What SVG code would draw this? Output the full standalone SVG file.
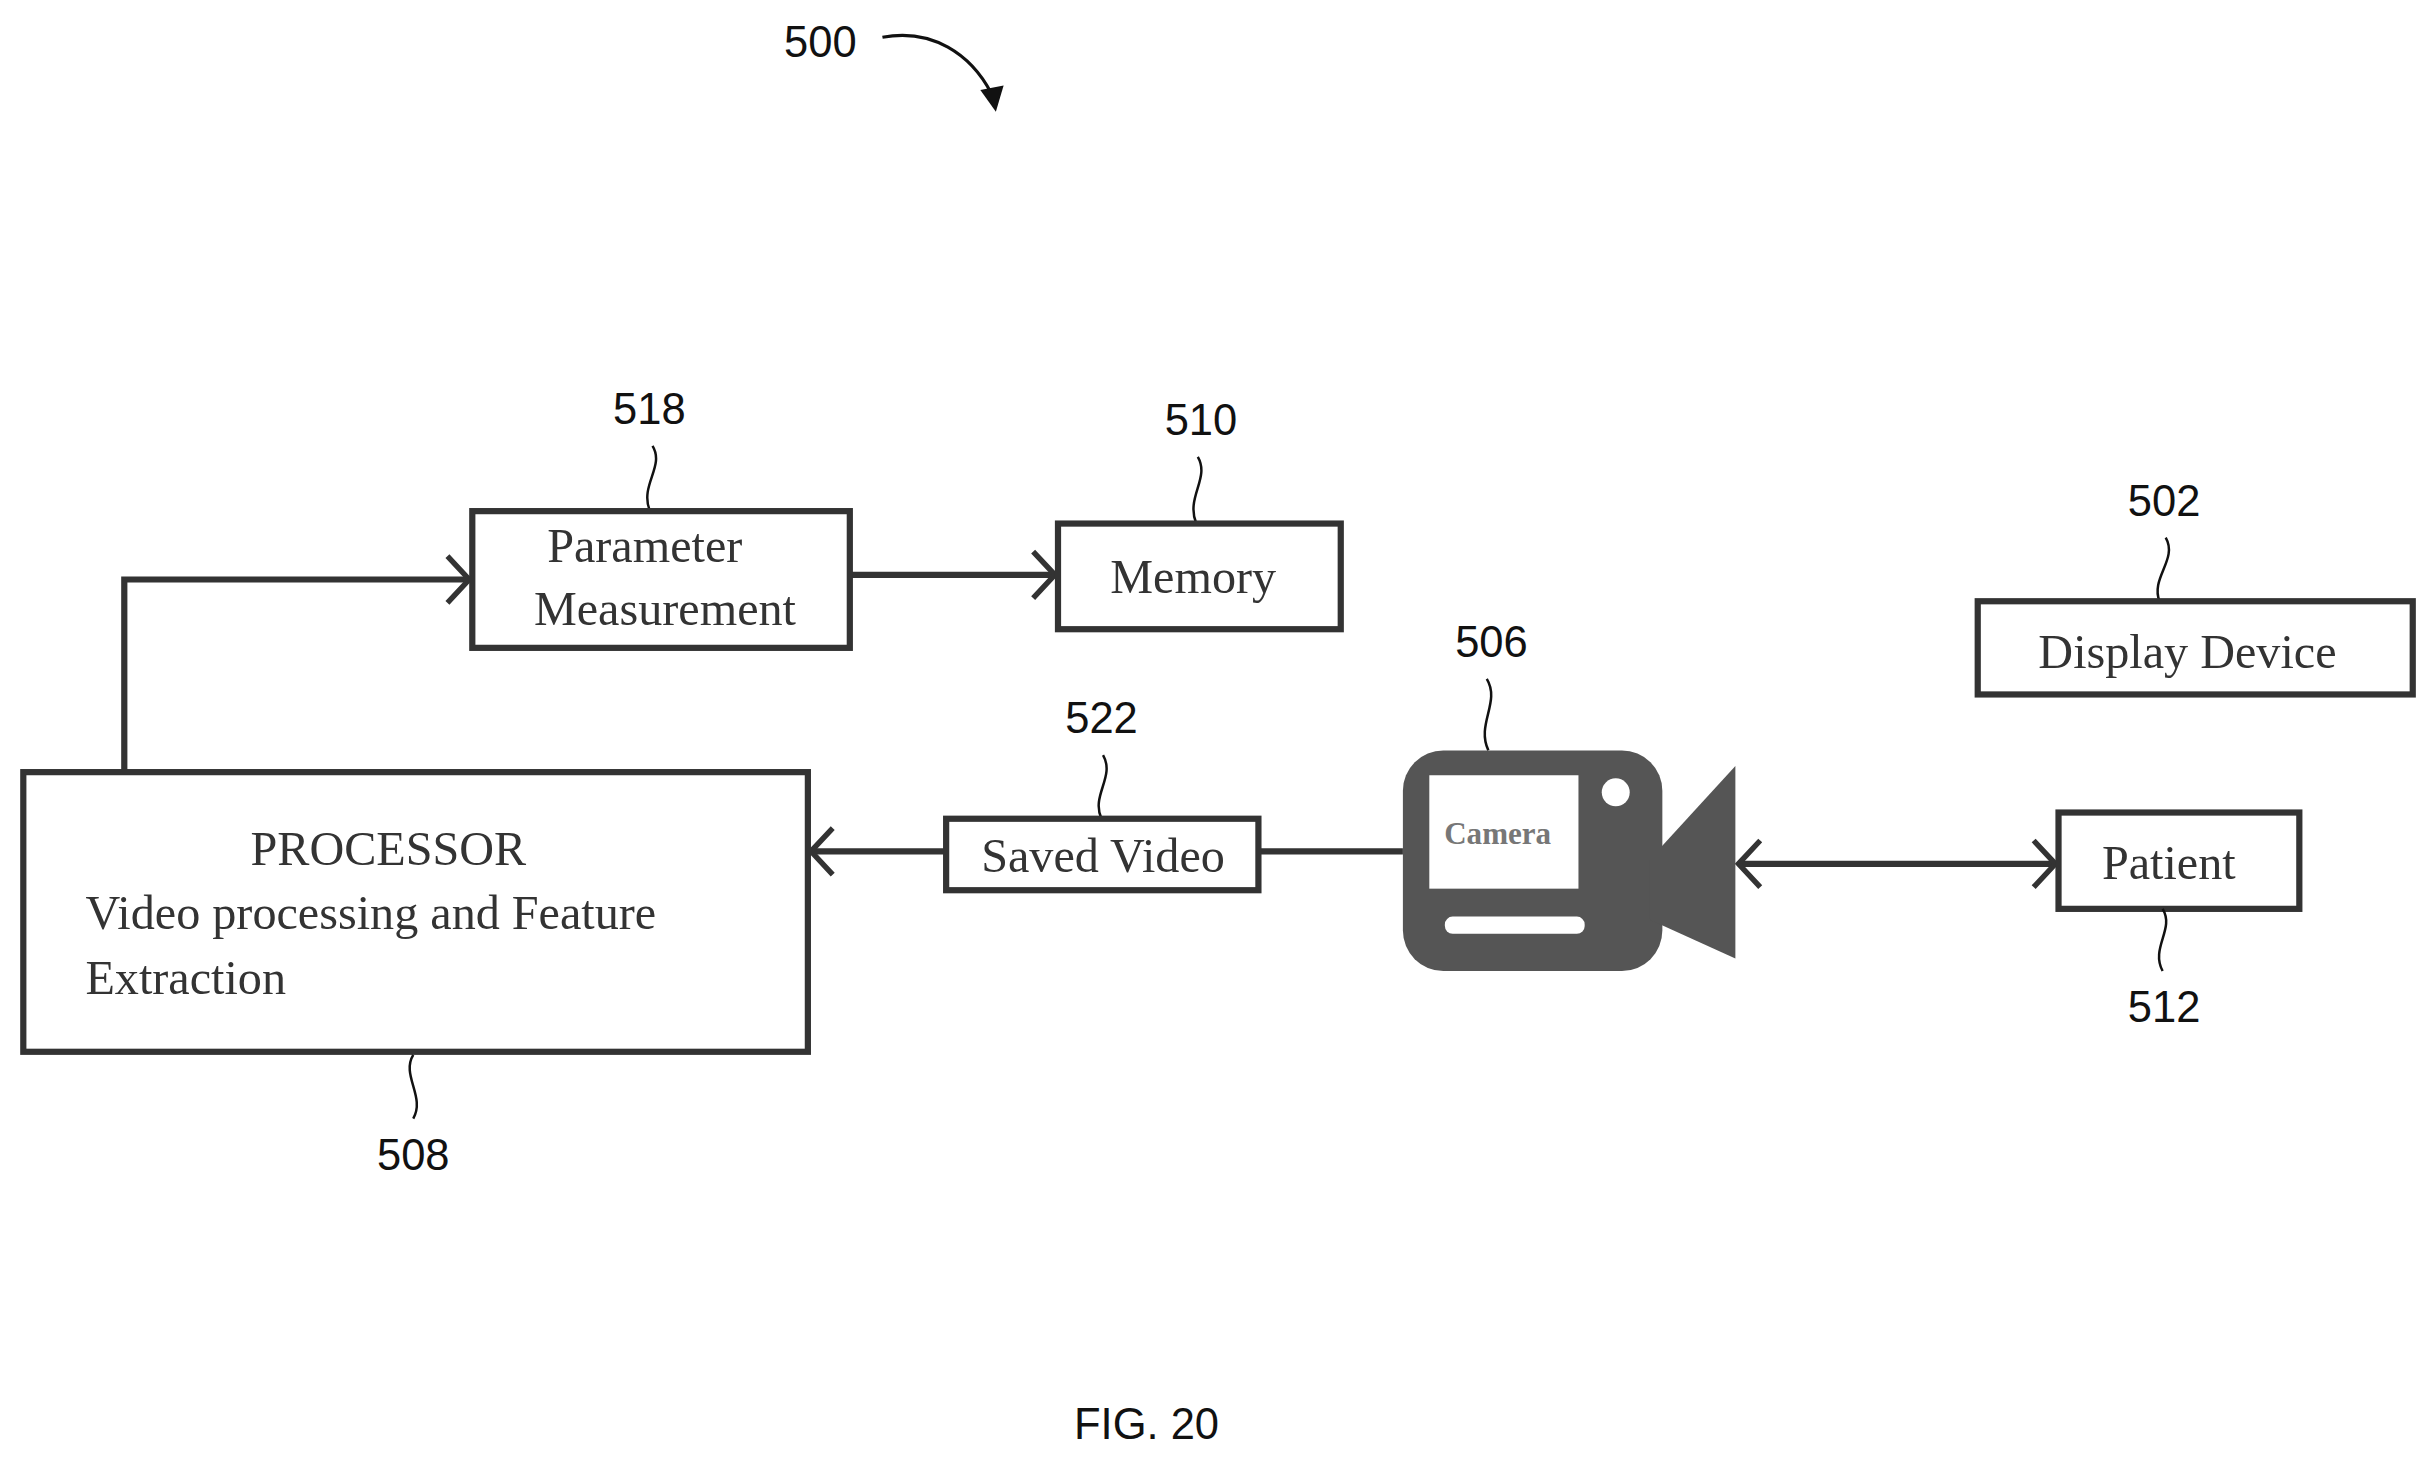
<svg xmlns="http://www.w3.org/2000/svg" width="2436" height="1464" viewBox="0 0 2436 1464">
<style>
.box{fill:#fff;stroke:#333;stroke-width:4}
.t{font-family:"Liberation Serif",serif;font-size:31px;fill:#333}
.n{font-family:"Liberation Sans",Arial,sans-serif;font-size:28px;fill:#111;text-anchor:middle}
.ln{fill:none;stroke:#333;stroke-width:4}
.ld{fill:none;stroke:#111;stroke-width:1.6}
.ah{fill:none;stroke:#333;stroke-width:3.5}
</style>
<rect width="2436" height="1464" fill="#fff"/>
<g transform="scale(1.5536)">
<g id="connectors">
<path class="ln" d="M80,497 V373 H302"/>
<path class="ah" d="M288,358 L302,373 L288,388"/>
<path class="ln" d="M547,370 H679"/>
<path class="ah" d="M665,355 L679,370 L665,385"/>
<path class="ln" d="M903,548 H810 M609,548 H522"/>
<path class="ah" d="M536,533 L522,548 L536,563"/>
<path class="ln" d="M1119,556 H1323"/>
<path class="ah" d="M1133,541 L1119,556 L1133,571 M1309,541 L1323,556 L1309,571"/>
<path fill="none" stroke="#111" stroke-width="2" d="M568,24 C600,18 625,35 638,60"/>
<path fill="#111" d="M631,58 L641,72 L646,55 Z"/>
</g>
<g id="n500"><text class="n" x="528" y="37">500</text></g>
<g id="n518"><text class="n" x="418" y="273">518</text><path class="ld" d="M420,287 C428,300 412,312 418,328"/>
<rect class="box" x="304" y="329" width="243" height="88"/>
<text class="t" x="415" y="362" text-anchor="middle">Parameter</text>
<text class="t" x="428" y="402" text-anchor="middle">Measurement</text></g>
<g id="n510"><text class="n" x="773" y="280">510</text><path class="ld" d="M771,294 C779,308 763,320 770,337"/>
<rect class="box" x="681" y="337" width="182" height="68"/>
<text class="t" x="768" y="382" text-anchor="middle">Memory</text></g>
<g id="n502"><text class="n" x="1393" y="332">502</text><path class="ld" d="M1394,346 C1402,360 1384,372 1390,387"/>
<rect class="box" x="1273" y="387" width="280" height="60"/>
<text class="t" x="1408" y="430" text-anchor="middle">Display Device</text></g>
<g id="n506"><text class="n" x="960" y="423">506</text><path class="ld" d="M957,437 C966,452 950,466 958,483"/>
<rect x="903" y="483" width="167" height="142" rx="26" fill="#555"/>
<path fill="#555" d="M1062,553 L1117,493 L1117,617 L1062,592 Z"/>
<rect x="920" y="499" width="96" height="73" fill="#fff"/>
<circle cx="1040" cy="510" r="9" fill="#fff"/>
<rect x="930" y="590" width="90" height="11" rx="5" fill="#fff"/>
<text x="964" y="543" text-anchor="middle" font-family="Liberation Serif,serif" font-size="20" font-weight="bold" fill="#777">Camera</text></g>
<g id="n522"><text class="n" x="709" y="472">522</text><path class="ld" d="M710,486 C718,500 702,512 709,527"/>
<rect class="box" x="609" y="527" width="201" height="46"/>
<text class="t" x="710" y="561" text-anchor="middle">Saved Video</text></g>
<g id="n512"><rect class="box" x="1325" y="523" width="155" height="62"/>
<text class="t" x="1396" y="566" text-anchor="middle">Patient</text>
<path class="ld" d="M1392,585 C1400,598 1384,610 1392,625"/><text class="n" x="1393" y="658">512</text></g>
<g id="n508"><rect class="box" x="15" y="497" width="505" height="180"/>
<text class="t" x="250" y="557" text-anchor="middle">PROCESSOR</text>
<text class="t" x="55" y="598">Video processing and Feature</text>
<text class="t" x="55" y="640">Extraction</text>
<path class="ld" d="M266,679 C258,692 274,706 266,720"/><text class="n" x="266" y="753">508</text></g>
<text class="n" x="738" y="926" font-size="30">FIG. 20</text>
</g>
</svg>
